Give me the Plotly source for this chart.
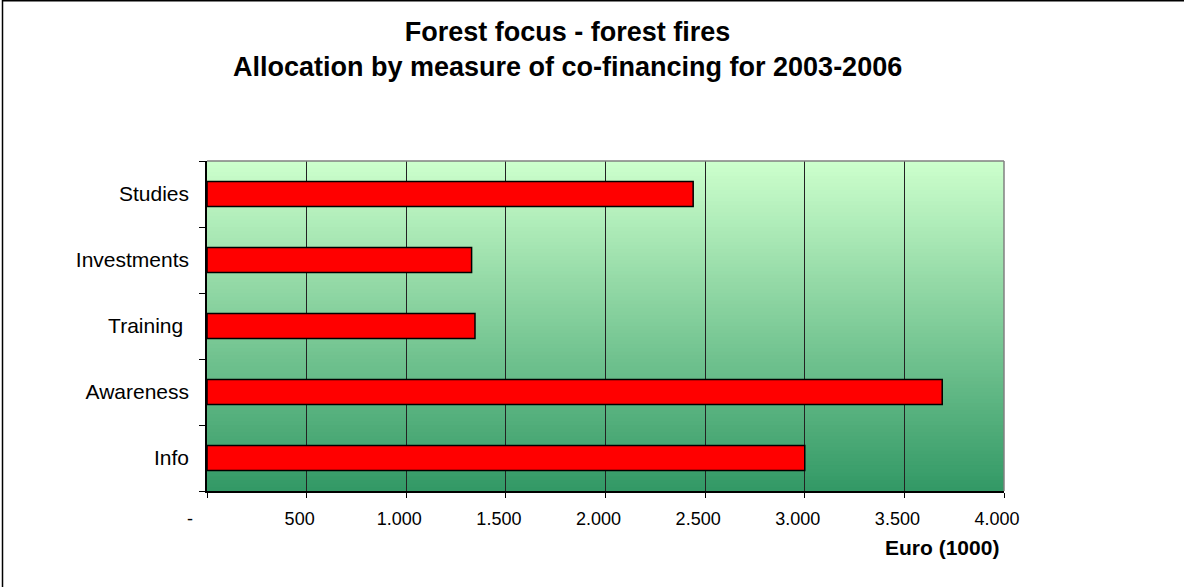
import plotly.graph_objects as go

# ---- data (bottom to top) ----
categories = ["Info", "Awareness", "Training ", "Investments", "Studies"]
values = [3000, 3690, 1345, 1328, 2440]
x_tickvals = [0, 500, 1000, 1500, 2000, 2500, 3000, 3500, 4000]
x_ticktext = ["-\u00a0\u00a0\u00a0\u00a0", "500", "1.000", "1.500", "2.000", "2.500", "3.000", "3.500", "4.000"]
title_line1 = "Forest focus - forest fires"
title_line2 = "Allocation by measure of co-financing for 2003-2006"
x_title = "Euro (1000)"

FONT = "Arial, 'Liberation Sans', sans-serif"
W, H = 1184, 587
ML, MR, MT, MB = 207, 180, 161, 96
PW, PH = W - ML - MR, H - MT - MB


def px_x(px):
    return (px - ML) / PW


def px_y(py):
    return (H - MB - py) / PH


fig = go.Figure()
fig.add_trace(go.Bar(
    y=categories, x=values, orientation="h",
    marker=dict(color="#FF0000", line=dict(color="#000000", width=1.5)),
    showlegend=False, hoverinfo="x+y",
))

# gradient background of plot area via stripes
top = (204, 255, 204)
bot = (51, 153, 102)
N = 90
shapes = []
for i in range(N):
    t = i / (N - 1)
    c = tuple(round(bot[k] + (top[k] - bot[k]) * t) for k in range(3))
    shapes.append(dict(
        type="rect", xref="x domain", yref="y domain",
        x0=0, x1=1, y0=i / N, y1=min(1, (i + 1.6) / N),
        fillcolor="rgb(%d,%d,%d)" % c, line=dict(width=0), layer="below",
    ))
# plot-area border top/right (gray)
shapes.append(dict(type="line", xref="x domain", yref="y domain", x0=0, x1=1, y0=1, y1=1,
                   line=dict(color="#808080", width=1.5)))
shapes.append(dict(type="line", xref="x domain", yref="y domain", x0=1, x1=1, y0=0, y1=1,
                   line=dict(color="#808080", width=1.5)))
# outer chart border
shapes.append(dict(type="rect", xref="paper", yref="paper",
                   x0=px_x(2.5), x1=px_x(1200), y0=px_y(600), y1=px_y(0.8),
                   line=dict(color="#000000", width=1.5), fillcolor="rgba(0,0,0,0)"))

annotations = [
    dict(text="<b>%s</b><br><b>%s</b>" % (title_line1, title_line2), xref="paper", yref="paper",
         x=px_x(567), y=px_y(50), xanchor="center", yanchor="middle", showarrow=False,
         font=dict(family=FONT, size=27, color="#000")),
    dict(text="<b>%s</b>" % x_title, xref="paper", yref="paper",
         x=px_x(942), y=px_y(547), xanchor="center", yanchor="middle", showarrow=False,
         font=dict(family=FONT, size=21, color="#000")),
]

fig.update_layout(
    width=W, height=H,
    margin=dict(l=ML, r=MR, t=MT, b=MB, pad=0),
    paper_bgcolor="#FFFFFF", plot_bgcolor="rgba(0,0,0,0)",
    bargap=0.62,
    shapes=shapes, annotations=annotations,
    font=dict(family=FONT, color="#000"),
)
fig.update_xaxes(
    range=[0, 4000], tickvals=x_tickvals, ticktext=x_ticktext,
    ticks="outside", ticklen=5, tickcolor="#000", tickwidth=1,
    showgrid=True, gridcolor="#222222", gridwidth=1,
    showline=True, linecolor="#000", linewidth=1.5,
    zeroline=False, ticklabelshift=-7, ticklabelstandoff=6,
    tickfont=dict(family=FONT, size=18, color="#000"),
)
fig.update_yaxes(
    type="category", categoryorder="array", categoryarray=categories,
    tickson="boundaries", ticks="outside", ticklen=6, tickcolor="#000",
    showgrid=False, showline=True, linecolor="#000", linewidth=1.5,
    ticklabelstandoff=12,
    tickfont=dict(family=FONT, size=21, color="#000"),
)

fig.write_html(
    "out.html",
    config={"displayModeBar": False},
    post_script="document.body.style.margin='0';document.body.style.overflow='hidden';",
)
